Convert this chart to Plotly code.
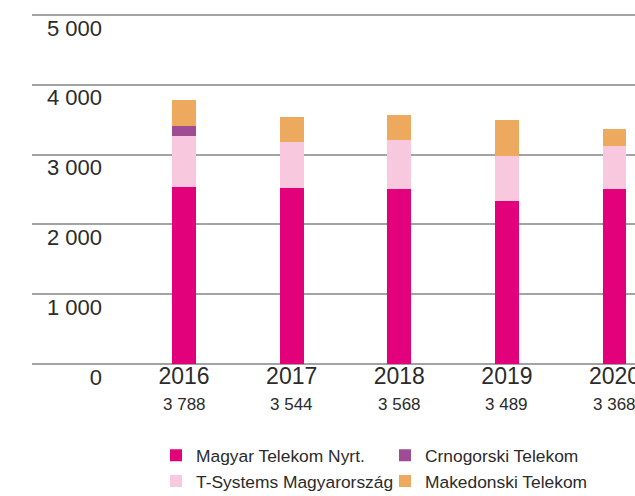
import plotly.graph_objects as go

years = ["2016", "2017", "2018", "2019", "2020"]
magyar = [2540, 2520, 2510, 2340, 2510]
tsystems = [729, 660, 700, 640, 615]
crnogorski = [143, 0, 0, 0, 0]
makedonski = [376, 364, 358, 509, 243]
y_ticks = [0, 1000, 2000, 3000, 4000, 5000]

series = [
    ("Magyar Telekom Nyrt.", magyar, "#E3007B", 1),
    ("T-Systems Magyarország", tsystems, "#F8C8DF", 3),
    ("Crnogorski Telekom", crnogorski, "#9F4C95", 2),
    ("Makedonski Telekom", makedonski, "#EDA95D", 4),
]

FONT = "Liberation Sans, Arial, sans-serif"
TXT = "#2b2b2b"

fig = go.Figure()
for name, vals, color, rank in series:
    fig.add_trace(go.Bar(
        x=years, y=vals, name=name, marker=dict(color=color, line=dict(width=0)),
        legendrank=rank,
    ))

totals = [sum(v) for v in zip(magyar, tsystems, crnogorski, makedonski)]
for i, t in enumerate(totals):
    fig.add_annotation(
        x=i, y=0, xref="x", yref="y", text=f"{t:,}".replace(",", " "),
        showarrow=False, yanchor="middle", yshift=-40,
        font=dict(family=FONT, size=17, color=TXT),
    )

fig.update_layout(
    width=635, height=496,
    margin=dict(l=32, r=0, t=8, b=131.5),
    paper_bgcolor="white", plot_bgcolor="white",
    barmode="stack", bargap=0.78,
    separators=", ",
    font=dict(family=FONT, color=TXT),
    showlegend=True,
    legend=dict(
        orientation="h", traceorder="normal",
        x=156 / 635, xref="container", y=27.5 / 496, yref="container",
        xanchor="left", yanchor="middle",
        entrywidth=184, entrywidthmode="pixels",
        font=dict(family=FONT, size=17.4, color=TXT),
        itemwidth=30, tracegroupgap=0,
    ),
    xaxis=dict(
        type="category", range=[-1.413, 4.19], automargin=False,
        showgrid=False, showline=False, ticks="",
        tickfont=dict(family=FONT, size=23, color=TXT),
        ticklabelstandoff=-4,
    ),
    yaxis=dict(
        range=[0, 5100], tickvals=y_ticks, tickformat=",d", automargin=False,
        anchor="free", position=70 / 603,
        showgrid=True, gridcolor="#a3a3a3", gridwidth=1.6,
        zeroline=True, zerolinecolor="#a3a3a3", zerolinewidth=1.6,
        showline=False, ticks="",
        tickfont=dict(family=FONT, size=22, color=TXT),
        ticklabelshift=13, ticklabelstandoff=0,
    ),
)

fig.write_html(
    "out.html",
    config={"displayModeBar": False},
    post_script="document.body.style.margin='0';document.body.style.overflow='hidden';",
)
